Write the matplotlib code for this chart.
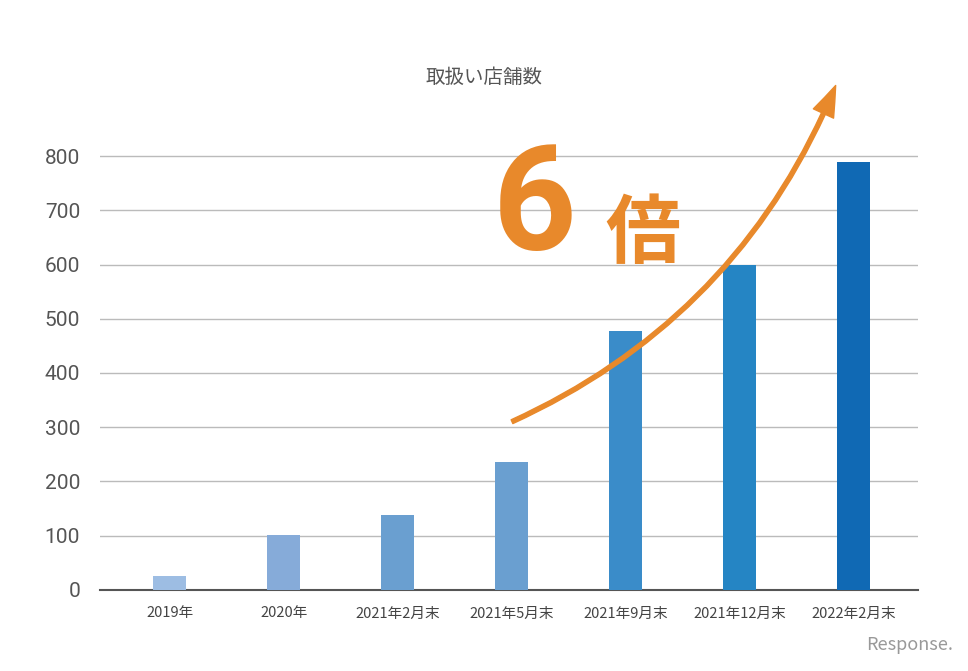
import matplotlib
matplotlib.use("Agg")
import matplotlib.pyplot as plt
from matplotlib.patches import FancyArrowPatch

categories = ["2019年", "2020年", "2021年2月末", "2021年5月末", "2021年9月末", "2021年12月末", "2022年2月末"]
values = [26, 101, 138, 236, 477, 599, 789]
colors = ["#9dbde3", "#86abd9", "#6a9fd0", "#6a9fd0", "#3a8cc9", "#2585c4", "#1069b4"]
yticks = [0, 100, 200, 300, 400, 500, 600, 700, 800]

plt.rcParams["font.family"] = ["Noto Sans CJK JP"]
fig = plt.figure(figsize=(9.68, 6.71), dpi=100)
ax = fig.add_axes([0.103, 0.121, 0.845, 0.711])
x = list(range(len(categories)))
ax.bar(x, values, width=0.29, color=colors, zorder=3)
ax.set_xlim(-0.614, 6.56)
ax.set_ylim(0, 880)
ax.set_yticks(yticks)
ax.set_yticklabels([str(v) for v in yticks], fontsize=15, color="#555555", fontfamily="Roboto")
ax.set_xticks(x)
ax.set_xticklabels(categories, fontsize=10.5, color="#444444")
ax.grid(axis="y", color="#bbbbbb", lw=1, zorder=0)
for s in ["top", "right", "left"]:
    ax.spines[s].set_visible(False)
ax.spines["bottom"].set_color("#555555")
ax.spines["bottom"].set_linewidth(1.5)
ax.tick_params(length=0, pad=12)
ax.tick_params(axis="y", pad=14)

fig.text(0.5, 0.885, "取扱い店舗数", ha="center", va="center", fontsize=14, color="#555555")

arr = FancyArrowPatch((2.98, 308), (5.85, 935), connectionstyle="arc3,rad=0.2",
                      arrowstyle="simple,head_width=16,head_length=22,tail_width=3",
                      color="#e8892b", clip_on=False, zorder=5, mutation_scale=1)
ax.add_patch(arr)
ax.text(3.2, 700, "6", fontsize=105, fontweight="bold", color="#e8892b", ha="center", va="center", fontfamily="Roboto")
ax.text(4.15, 655, "倍", fontsize=54, fontweight="bold", color="#e8892b", ha="center", va="center")
fig.text(0.985, 0.025, "Response.", ha="right", va="bottom", fontsize=13, color="#999999", style="italic")
fig.savefig("out.png", dpi=100)
